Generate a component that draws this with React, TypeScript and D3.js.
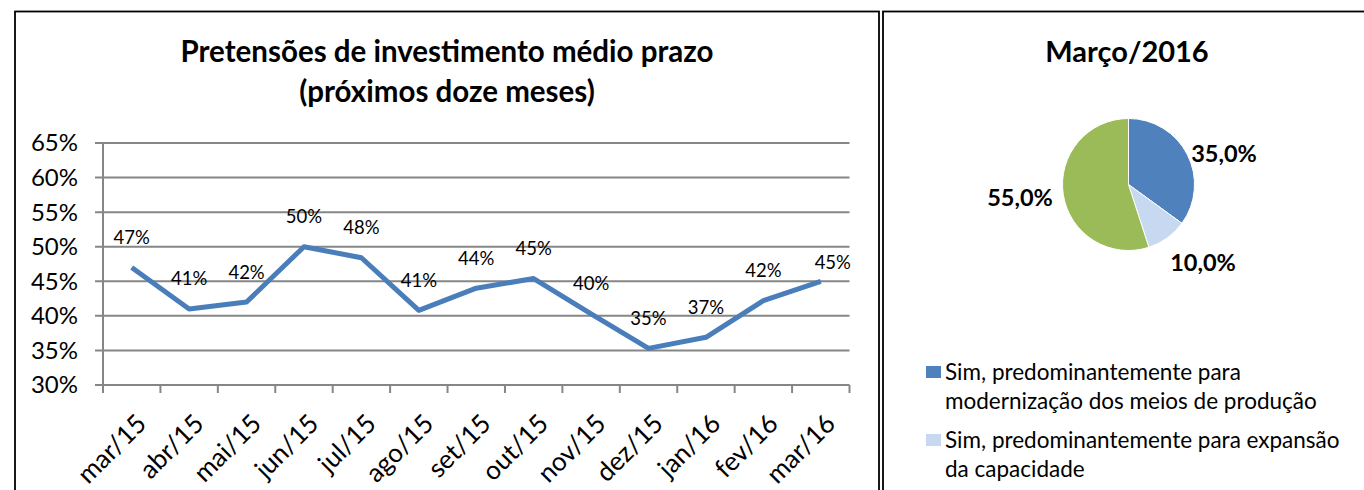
import React from "react";
import * as d3 from "d3";

const months = ["mar/15","abr/15","mai/15","jun/15","jul/15","ago/15","set/15","out/15","nov/15","dez/15","jan/16","fev/16","mar/16"];
const values = [0.47,0.41,0.42,0.50,0.484,0.408,0.44,0.454,0.403,0.353,0.369,0.422,0.45];
const yTicks = [0.30,0.35,0.40,0.45,0.50,0.55,0.60,0.65];

const pieLabels = ["Sim, predominantemente para modernização dos meios de produção","Sim, predominantemente para expansão da capacidade","Não"];
const pieValues = [0.35,0.10,0.55];
const pieColors = ["#4F81BD","#C6D9F1","#9BBB59"];
const legendLines = [["Sim, predominantemente para","modernização dos meios de produção"],["Sim, predominantemente para expansão","da capacidade"]];

const FONT = "Lato, 'Open Sans', sans-serif";

export default function App() {
  const x = d3.scaleBand<string>().domain(months).range([103, 849.5]);
  const y = d3.scaleLinear().domain([0.30, 0.65]).range([385, 143]);
  const cxOf = (i: number) => x(months[i])! + x.bandwidth() / 2;
  const line = d3.line<number>().x((_, i) => cxOf(i)).y(d => y(d));
  const pct0 = d3.format(".0%");

  const pie = d3.pie<number>().sort(null).value(d => d)(pieValues);
  const arc = d3.arc<d3.PieArcDatum<number>>().innerRadius(0).outerRadius(66);
  const pcx = 1128.5, pcy = 184.5;
  const pieLabelPos = [[1224, 154], [1203, 263], [1020, 198]];
  const fmtPie = (v: number) => (v * 100).toFixed(1).replace(".", ",") + "%";

  const ticksX = months.map((_, i) => 103 + i * x.step()).concat([849.5]);

  return (
    <svg width={1364} height={490} style={{ position: "absolute", left: 0, top: 0, background: "#fff" }}>
      <rect x={15} y={11.5} width={864} height={500} fill="#fff" stroke="#000" strokeWidth={1.8} />
      <rect x={883} y={11.5} width={500} height={500} fill="#fff" stroke="#000" strokeWidth={1.8} />

      <text x={447} y={62} textAnchor="middle" fontFamily={FONT} fontWeight="bold" fontSize={29.5}>Pretensões de investimento médio prazo</text>
      <text x={447} y={102} textAnchor="middle" fontFamily={FONT} fontWeight="bold" fontSize={29.5}>(próximos doze meses)</text>

      {yTicks.map(t => (
        <g key={t}>
          <line x1={95} x2={849.5} y1={y(t)} y2={y(t)} stroke="#868686" strokeWidth={2} />
          <text x={78} y={y(t)} dy="0.35em" textAnchor="end" fontFamily={FONT} fontSize={24}>{pct0(t)}</text>
        </g>
      ))}
      <line x1={103} x2={103} y1={143} y2={385} stroke="#868686" strokeWidth={2} />
      {ticksX.map((tx, i) => (
        <line key={i} x1={tx} x2={tx} y1={385} y2={393} stroke="#868686" strokeWidth={2} />
      ))}
      {months.map((m, i) => (
        <text key={m} transform={`translate(${cxOf(i) + 3},${412}) rotate(-45)`} textAnchor="end" dy="0.72em" fontFamily={FONT} fontSize={26}>{m}</text>
      ))}

      <path d={line(values)!} fill="none" stroke="#4A7EBB" strokeWidth={5} strokeLinejoin="round" />
      {values.map((v, i) => {
        const last = i === values.length - 1;
        return (
          <text key={i} x={cxOf(i) + (last ? 12 : 0)} y={y(v) - (last ? 19 : 30)} dy="0.35em" textAnchor="middle" fontFamily={FONT} fontSize={18.5}>{pct0(v)}</text>
        );
      })}

      <text x={1127} y={62} textAnchor="middle" fontFamily={FONT} fontWeight="bold" fontSize={29}>Março/2016</text>
      <g transform={`translate(${pcx},${pcy})`}>
        {pie.map((p, i) => (
          <path key={i} d={arc(p)!} fill={pieColors[i]} stroke="#fff" strokeWidth={1} />
        ))}
      </g>
      {pie.map((p, i) => (
        <text key={i} x={pieLabelPos[i][0]} y={pieLabelPos[i][1]} dy="0.35em" textAnchor="middle" fontFamily={FONT} fontWeight="bold" fontSize={23.5}>{fmtPie(p.data)}</text>
      ))}

      {legendLines.map((ls, i) => (
        <g key={i} transform={`translate(926,${366 + i * 68})`}>
          <rect x={0} y={0} width={15} height={12} fill={pieColors[i]} />
          {ls.map((l, j) => (
            <text key={j} x={19} y={6 + j * 29} dy="0.35em" fontFamily={FONT} fontSize={22.5}>{l}</text>
          ))}
        </g>
      ))}
    </svg>
  );
}
